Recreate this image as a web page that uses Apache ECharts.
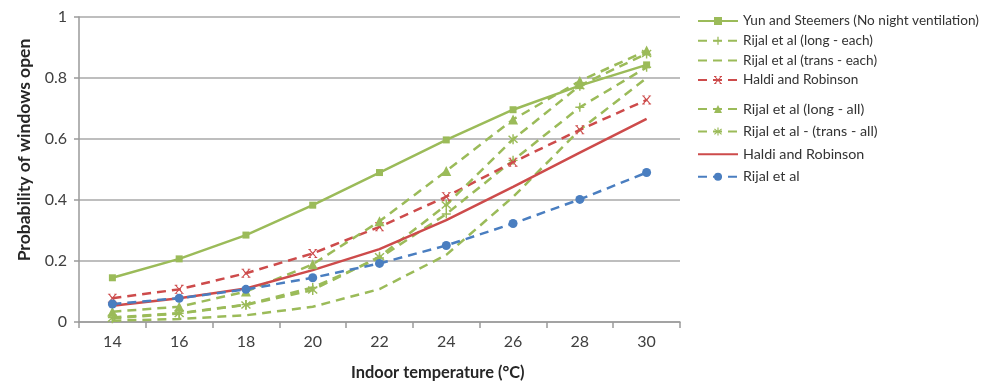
<!DOCTYPE html>
<html>
<head>
<meta charset="utf-8">
<script src="https://cdn.jsdelivr.net/npm/echarts@6/dist/echarts.min.js"></script>
<style>
html,body{margin:0;padding:0;background:#fff;}
#chart{width:984px;height:384px;}
</style>
</head>
<body>
<div id="chart"></div>
<script>
const categories = ['14','16','18','20','22','24','26','28','30'];
const yTicks = [0, 0.2, 0.4, 0.6, 0.8, 1];
const yunSteemers = [0.145, 0.207, 0.285, 0.383, 0.49, 0.597, 0.696, 0.775, 0.843];
const rijalLongEach = [0.015, 0.029, 0.057, 0.113, 0.21, 0.354, 0.53, 0.704, 0.835];
const rijalTransEach = [0.004, 0.01, 0.022, 0.05, 0.108, 0.22, 0.41, 0.63, 0.80];
const haldiDashed = [0.078, 0.107, 0.16, 0.225, 0.312, 0.411, 0.524, 0.63, 0.728];
const rijalLongAll = [0.034, 0.05, 0.10, 0.189, 0.33, 0.495, 0.664, 0.79, 0.89];
const rijalTransAll = [0.012, 0.028, 0.056, 0.105, 0.214, 0.384, 0.599, 0.775, 0.88];
const haldiSolid = [0.053, 0.078, 0.11, 0.17, 0.239, 0.334, 0.443, 0.555, 0.666];
const rijal = [0.059, 0.078, 0.107, 0.145, 0.192, 0.251, 0.323, 0.402, 0.49];

const names = [
  'Yun and Steemers (No night ventilation)',
  'Rijal et al (long - each)',
  'Rijal et al (trans - each)',
  'Haldi and Robinson ',
  'Rijal et al (long - all)',
  'Rijal et al - (trans - all)',
  'Haldi and Robinson',
  'Rijal et al'
];
const noMarker = [names[2], names[6]];

const GREEN = '#9BBB59', RED = '#CD4B4B', BLUE = '#4A7EC0';
const FONT = 'Lato, "Open Sans", sans-serif';
const DASH = [9, 6];
const xMark = 'path://M0,0 L3,0 L3,1 L2.2,1 L5,4 L7.8,1 L7,1 L7,0 L10,0 L10,1 L9.2,1 L6,5 L9.2,9 L10,9 L10,10 L7,10 L7,9 L7.8,9 L5,6 L2.2,9 L3,9 L3,10 L0,10 L0,9 L0.8,9 L4,5 L0.8,1 L0,1 Z';
const starMark = 'path://M4.3,0 L5.7,0 L5.7,4 L8.8,1 L9.8,2 L6.6,5 L9.8,8 L8.8,9 L5.7,6 L5.7,10 L4.3,10 L4.3,6 L1.2,9 L0.2,8 L3.4,5 L0.2,2 L1.2,1 L4.3,4 Z';
const plusMark = 'path://M4.2,0 L5.8,0 L5.8,4.2 L10,4.2 L10,5.8 L5.8,5.8 L5.8,10 L4.2,10 L4.2,5.8 L0,5.8 L0,4.2 L4.2,4.2 Z';

function mk(name, data, color, dashed, symbol, size) {
  return {
    name: name, type: 'line', data: data,
    lineStyle: {color: color, width: 2.5, type: dashed ? DASH : 'solid'},
    itemStyle: {color: color},
    symbol: symbol, symbolSize: size, showSymbol: symbol !== 'none',
    z: 2
  };
}
function legendItems(list) {
  return list.map(function (n) {
    return noMarker.indexOf(n) >= 0
      ? {name: n, itemStyle: {color: 'rgba(0,0,0,0)', opacity: 0, borderWidth: 0}}
      : {name: n};
  });
}

const chart = echarts.init(document.getElementById('chart'));
chart.setOption({
  animation: false,
  backgroundColor: '#fff',
  grid: {left: 79, right: 304, top: 17, bottom: 62, containLabel: false},
  legend: [
    {
      data: legendItems(names.slice(0, 4)), orient: 'vertical', left: 692, top: 9,
      itemWidth: 40, itemHeight: 10, itemGap: 5.7,
      textStyle: {fontFamily: FONT, fontSize: 13.6, color: '#333'}
    },
    {
      data: legendItems(names.slice(4)), orient: 'vertical', left: 692, top: 97,
      itemWidth: 40, itemHeight: 10, itemGap: 8.6,
      textStyle: {fontFamily: FONT, fontSize: 14.3, color: '#333'}
    }
  ],
  xAxis: {
    type: 'category', data: categories, boundaryGap: true,
    axisLine: {lineStyle: {color: '#9a9a9a', width: 1.5}},
    axisTick: {show: true, length: 6, lineStyle: {color: '#9a9a9a', width: 1.5}},
    axisLabel: {fontFamily: FONT, fontSize: 16, color: '#404040', margin: 12}
  },
  yAxis: {
    type: 'value', min: 0, max: 1, interval: 0.2,
    axisLine: {show: true, lineStyle: {color: '#9a9a9a', width: 1.5}},
    axisTick: {show: true, length: 5, lineStyle: {color: '#9a9a9a', width: 1.5}},
    axisLabel: {fontFamily: FONT, fontSize: 16, color: '#404040', margin: 12,
      formatter: function (v) { return yTicks.indexOf(+v.toFixed(1)) >= 0 ? String(+v.toFixed(1)) : ''; }},
    splitLine: {show: true, lineStyle: {color: '#a8a8a8', width: 1.5}}
  },
  title: {
    text: 'Indoor temperature (°C)', left: 346, top: 360,
    textStyle: {fontFamily: FONT, fontSize: 16.4, fontWeight: 'bold', color: '#262626'}
  },
  graphic: [{
    type: 'text', x: 24, y: 150, rotation: Math.PI / 2,
    style: {text: 'Probability of windows open', fontFamily: FONT, fontSize: 17.5, fontWeight: 'bold',
      fill: '#262626', align: 'center', verticalAlign: 'middle'}
  }],
  series: [
    mk(names[0], yunSteemers, GREEN, false, 'rect', 7),
    mk(names[1], rijalLongEach, GREEN, true, plusMark, 9),
    mk(names[2], rijalTransEach, GREEN, true, 'none', 0),
    mk(names[3], haldiDashed, RED, true, xMark, 9),
    mk(names[4], rijalLongAll, GREEN, true, 'triangle', 10),
    mk(names[5], rijalTransAll, GREEN, true, starMark, 10),
    mk(names[6], haldiSolid, RED, false, 'none', 0),
    mk(names[7], rijal, BLUE, true, 'circle', 9)
  ]
});
</script>
</body>
</html>
